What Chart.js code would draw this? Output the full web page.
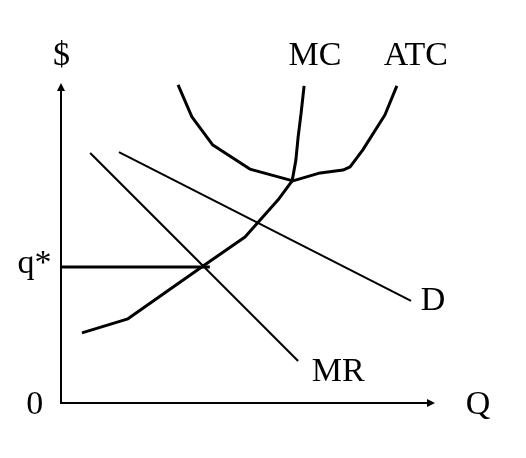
<!DOCTYPE html>
<html>
<head>
<meta charset="utf-8">
<script src="https://cdn.jsdelivr.net/npm/chart.js@4/dist/chart.umd.min.js"></script>
<style>
  html, body { margin: 0; padding: 0; background: #ffffff; }
  #wrap { width: 526px; height: 458px; position: relative; }
</style>
</head>
<body>
<div id="wrap"><canvas id="c"></canvas></div>
<script>
// Quantity (x) and price (y) readings, axis range 0..100 on both
const mcQ   = [5.6, 17.9, 38.0, 49.2, 58.0, 61.8, 62.8, 63.4, 64.2, 65.0];
const mcP   = [21.9, 26.3, 42.8, 51.9, 63.4, 69.4, 75.9, 83.1, 90.6, 99.1];
const atcQ  = [31.3, 35.0, 40.6, 50.5, 62.0, 69.3, 75.4, 77.3, 80.7, 86.6, 89.8];
const atcP  = [99.4, 89.4, 80.6, 73.1, 69.4, 71.9, 72.8, 73.8, 79.1, 90.0, 99.1];
const dQ    = [15.5, 93.6];
const dP    = [78.4, 31.9];
const mrQ   = [7.8, 63.4];
const mrP   = [78.1, 13.1];
const qStarQ = [0, 39.8];
const qStarP = [42.5, 42.5];

// Text labels and their anchor values
const labelText = ['$', 'MC', 'ATC', 'D', 'MR', 'Q', '0', 'q*'];
const labelQ    = [0.13, 67.9, 94.9, 99.5, 74.1, 111.5, -7.0, -7.1];
const labelP    = [105.6, 105.6, 105.6, 29.1, 6.9, -3.4, -3.4, 40.6];

function pts(xs, ys) { return xs.map((x, i) => ({ x: x, y: ys[i] })); }

const annot = {
  id: 'econAnnot',
  beforeDatasetsDraw(chart) {
    const ctx = chart.ctx;
    const xs = chart.scales.x, ys = chart.scales.y;
    const x0 = xs.getPixelForValue(0), y0 = ys.getPixelForValue(0);
    const xT = xs.getPixelForValue(100), yT = ys.getPixelForValue(100);
    ctx.save();
    ctx.strokeStyle = '#000'; ctx.fillStyle = '#000'; ctx.lineWidth = 2;
    ctx.beginPath();
    ctx.moveTo(x0, y0 + 1); ctx.lineTo(x0, yT + 6);
    ctx.moveTo(x0 - 1, y0); ctx.lineTo(xT - 6, y0);
    ctx.stroke();
    // arrowheads
    ctx.beginPath();
    ctx.moveTo(x0, yT); ctx.lineTo(x0 - 4, yT + 8); ctx.lineTo(x0 + 4, yT + 8); ctx.closePath();
    ctx.fill();
    ctx.beginPath();
    ctx.moveTo(xT, y0); ctx.lineTo(xT - 8, y0 - 4); ctx.lineTo(xT - 8, y0 + 4); ctx.closePath();
    ctx.fill();
    ctx.restore();
  },
  afterDatasetsDraw(chart) {
    const ctx = chart.ctx;
    const xs = chart.scales.x, ys = chart.scales.y;
    ctx.save();
    ctx.fillStyle = '#000';
    ctx.font = '34px "Liberation Serif", "Times New Roman", serif';
    ctx.textAlign = 'center';
    ctx.textBaseline = 'alphabetic';
    labelText.forEach((t, i) => {
      ctx.fillText(t, xs.getPixelForValue(labelQ[i]), ys.getPixelForValue(labelP[i]));
    });
    ctx.restore();
  }
};

const thick = 3, thin = 2;
function ds(label, xs, ys, w) {
  return {
    label: label, data: pts(xs, ys), showLine: true, borderColor: '#000',
    borderWidth: w, pointRadius: 0, pointHoverRadius: 0, fill: false,
    tension: 0, clip: false, borderJoinStyle: 'round', borderCapStyle: 'butt'
  };
}

new Chart(document.getElementById('c'), {
  type: 'scatter',
  data: {
    datasets: [
      ds('MC', mcQ, mcP, thick),
      ds('ATC', atcQ, atcP, thick),
      ds('D', dQ, dP, thin),
      ds('MR', mrQ, mrP, thin),
      ds('q*', qStarQ, qStarP, thick)
    ]
  },
  options: {
    responsive: true,
    maintainAspectRatio: false,
    animation: false,
    layout: { padding: { left: 61, right: 91, top: 83, bottom: 55 } },
    plugins: { legend: { display: false }, tooltip: { enabled: false } },
    scales: {
      x: { type: 'linear', min: 0, max: 100, display: false },
      y: { type: 'linear', min: 0, max: 100, display: false }
    }
  },
  plugins: [annot]
});
</script>
</body>
</html>
